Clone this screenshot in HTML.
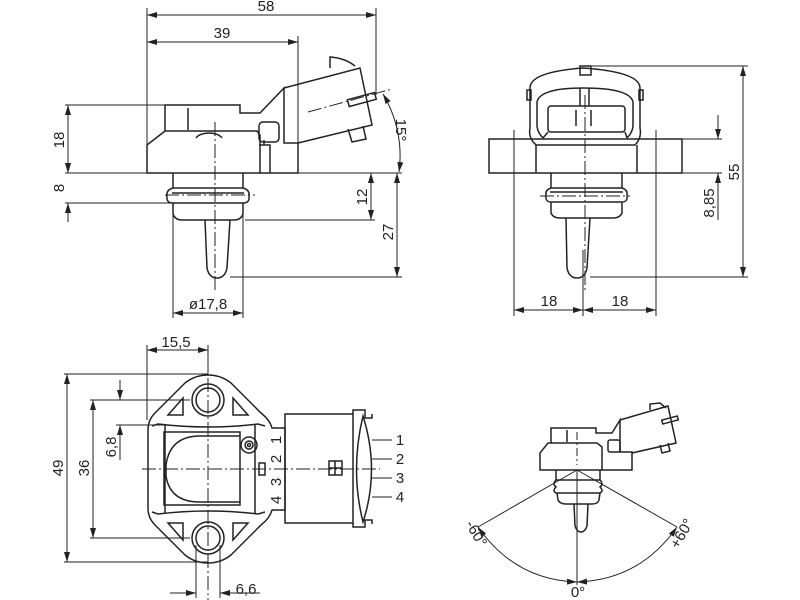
<!DOCTYPE html>
<html><head><meta charset="utf-8"><style>
html,body{margin:0;padding:0;background:#fff;}
svg{display:block;}
text{font-family:"Liberation Sans",sans-serif;font-size:15px;fill:#222;}
</style></head><body>
<svg width="800" height="600" viewBox="0 0 800 600" xmlns="http://www.w3.org/2000/svg">
<defs>
<marker id="a" viewBox="0 0 10 6" refX="10" refY="3" markerWidth="10" markerHeight="6" orient="auto-start-reverse" markerUnits="userSpaceOnUse"><path d="M0,0L10,3L0,6z" fill="#222"/></marker>
</defs>
<g fill="none" stroke="#222" stroke-width="1">
<!-- ========== TOP LEFT VIEW ========== -->
<!-- ext lines -->
<line x1="147" y1="8" x2="147" y2="173"/>
<line x1="376" y1="8" x2="376" y2="95"/>
<line x1="298" y1="36" x2="298" y2="173"/>
<line x1="65" y1="105" x2="165" y2="105"/>
<line x1="65" y1="173" x2="402" y2="173"/>
<line x1="65" y1="203" x2="212" y2="203"/>
<line x1="245" y1="220" x2="375" y2="220"/>
<line x1="230" y1="277" x2="402" y2="277"/>
<line x1="173" y1="210" x2="173" y2="318"/>
<line x1="243" y1="210" x2="243" y2="318"/>
<!-- dims -->
<line x1="147" y1="15" x2="376" y2="15" marker-start="url(#a)" marker-end="url(#a)"/>
<line x1="147" y1="42" x2="298" y2="42" marker-start="url(#a)" marker-end="url(#a)"/>
<line x1="68" y1="105" x2="68" y2="173" marker-start="url(#a)" marker-end="url(#a)"/>
<line x1="68" y1="173" x2="68" y2="160" marker-start="url(#a)"/>
<line x1="68" y1="203" x2="68" y2="222" marker-start="url(#a)"/>
<line x1="371" y1="173" x2="371" y2="220" marker-start="url(#a)" marker-end="url(#a)"/>
<line x1="397" y1="173" x2="397" y2="277" marker-start="url(#a)" marker-end="url(#a)"/>
<line x1="173" y1="313" x2="243" y2="313" marker-start="url(#a)" marker-end="url(#a)"/>
<path d="M383,94 A120,120 0 0 1 399,172" marker-start="url(#a)" marker-end="url(#a)"/>
<!-- body -->
<g stroke-width="1.5">
<path d="M147,173 L147,145 L165,131 L257,131 L260,135 L260,173 Z"/>
<path d="M165,131 L165,105 L240,105 L240,113 L260,113 L284,88 L284,143 L298,143 L298,173 L260,173"/>
<line x1="188" y1="108" x2="188" y2="130"/>
<path d="M196,138 A14,8 0 0 1 222,138"/>
<path d="M284,88 L360,68 L372,125 L298,143"/>
<path d="M330,68 L330,57 Q345,58 355,66"/>
<path d="M348,129 L352,142 L366,139 L363,126"/>
<rect x="348" y="96" width="28" height="7" transform="rotate(-15 362 100)"/>
<rect x="259" y="122" width="20" height="20" rx="4"/>
<path d="M259,145 L270,145 L270,173 M264,145 L264,140"/>
<!-- stem -->
<path d="M173,173 L173,188 L243,188 L243,173"/>
<path d="M173,188 Q166,190 167,196 Q166,203 173,203 L243,203 Q250,203 249,196 Q250,190 243,188"/>
<line x1="172" y1="193" x2="244" y2="193"/>
<path d="M173,203 L173,214 Q175,220 182,220 L234,220 Q241,220 243,214 L243,203"/>
<path d="M205,220 L207,268 Q209,278 217,278 Q225,278 227,268 L230,220"/>
</g>
<g stroke-dasharray="14,3,2,3">
<line x1="215" y1="122" x2="215" y2="292"/>
<line x1="165" y1="195" x2="255" y2="195"/>
<line x1="308" y1="112" x2="392" y2="89"/>
</g>
<!-- ========== TOP RIGHT VIEW ========== -->
<line x1="514" y1="130" x2="514" y2="316"/>
<line x1="656" y1="130" x2="656" y2="316"/>
<line x1="583" y1="250" x2="583" y2="316"/>
<line x1="592" y1="66" x2="748" y2="66"/>
<line x1="590" y1="277" x2="748" y2="277"/>
<line x1="682" y1="139" x2="722" y2="139"/>
<line x1="682" y1="173" x2="722" y2="173"/>
<line x1="743" y1="66" x2="743" y2="277" marker-start="url(#a)" marker-end="url(#a)"/>
<line x1="718" y1="115" x2="718" y2="139" marker-end="url(#a)"/>
<line x1="718" y1="220" x2="718" y2="173" marker-end="url(#a)"/>
<line x1="514" y1="310" x2="583" y2="310" marker-start="url(#a)" marker-end="url(#a)"/>
<line x1="583" y1="310" x2="656" y2="310" marker-start="url(#a)" marker-end="url(#a)"/>
<g stroke-width="1.5">
<rect x="489" y="139" width="193" height="34"/>
<line x1="536" y1="145" x2="536" y2="173"/>
<line x1="637" y1="145" x2="637" y2="173"/>
<path d="M536,145 Q528,138 530,128 L530,88 Q530,72 583,68 Q640,72 640,88 L640,128 Q642,138 635,145 Z"/>
<path d="M543,138 Q537,132 537,125 L537,102 Q540,88 583,88 Q630,88 633,102 L633,125 Q633,132 627,138"/>
<rect x="548" y="106" width="77" height="26" rx="3"/>
<path d="M543,138 L548,132 M627,138 L625,132"/>
<rect x="580" y="66" width="11" height="9"/>
<rect x="527" y="90" width="4" height="10"/>
<rect x="639" y="90" width="4" height="10"/>
<line x1="580" y1="88" x2="580" y2="106"/><line x1="589" y1="88" x2="589" y2="106"/>
<line x1="576" y1="110" x2="576" y2="126"/><line x1="591" y1="110" x2="591" y2="126"/>
<path d="M551,173 L551,188 L622,188 L622,173"/>
<path d="M551,188 Q545,190 546,195 Q545,202 551,202 L622,202 Q628,202 627,195 Q628,190 622,188"/>
<line x1="550" y1="192" x2="623" y2="192"/>
<path d="M551,202 L551,213 Q553,218 560,218 L613,218 Q620,218 622,213 L622,202"/>
<path d="M566,218 L567,268 Q569,278 577,278 Q585,278 587,268 L590,218"/>
</g>
<g stroke-dasharray="14,3,2,3">
<line x1="585" y1="95" x2="585" y2="290"/>
<line x1="540" y1="196" x2="630" y2="196"/>
<line x1="514" y1="130" x2="514" y2="165"/>
</g>
<!-- ========== BOTTOM LEFT VIEW ========== -->
<line x1="147" y1="345" x2="147" y2="420"/>
<line x1="208" y1="345" x2="208" y2="375"/>
<line x1="64" y1="374" x2="208" y2="374"/>
<line x1="64" y1="562" x2="208" y2="562"/>
<line x1="90" y1="400" x2="190" y2="400"/>
<line x1="90" y1="538" x2="190" y2="538"/>
<line x1="116" y1="425" x2="170" y2="425"/>
<line x1="196" y1="545" x2="196" y2="598"/>
<line x1="220" y1="545" x2="220" y2="598"/>
<line x1="147" y1="350" x2="208" y2="350" marker-start="url(#a)" marker-end="url(#a)"/>
<line x1="67" y1="374" x2="67" y2="562" marker-start="url(#a)" marker-end="url(#a)"/>
<line x1="93" y1="400" x2="93" y2="538" marker-start="url(#a)" marker-end="url(#a)"/>
<line x1="120" y1="380" x2="120" y2="400" marker-end="url(#a)"/>
<line x1="120" y1="460" x2="120" y2="425" marker-end="url(#a)"/>
<line x1="170" y1="593" x2="196" y2="593" marker-end="url(#a)"/>
<line x1="260" y1="593" x2="220" y2="593" marker-end="url(#a)"/>
<g stroke-width="1.5">
<path d="M208,375 Q195,375 185,383 L155,413 Q148,420 148,430 L148,508 Q148,518 155,525 L185,555 Q195,563 208,563 Q221,563 231,555 L261,525 Q270,518 272,510 L285,510 L285,428 L272,428 Q270,420 261,413 L231,383 Q221,375 208,375 Z"/>
<path d="M152,426 L158,424 Q208,430 258,424 L265,426"/>
<path d="M152,512 L158,514 Q208,508 258,514 L265,512"/>
<line x1="165" y1="425" x2="165" y2="513"/>
<line x1="255" y1="425" x2="255" y2="513"/>
<rect x="164" y="432" width="76" height="73"/>
<path d="M240,436 L200,436 Q170,436 166,465 L166,476 Q170,502 200,502 L240,502"/>
<circle cx="208" cy="400" r="16"/><circle cx="208" cy="400" r="12"/>
<circle cx="208" cy="538" r="16"/><circle cx="208" cy="538" r="12"/>
<path d="M168,415 L183,398 L183,415 Z"/><path d="M233,398 L248,415 L233,415 Z"/>
<path d="M168,523 L183,540 L183,523 Z"/><path d="M233,540 L248,523 L233,523 Z"/>
<circle cx="249" cy="445" r="8"/><circle cx="249" cy="445" r="4"/><circle cx="249" cy="445" r="1.5"/>
<rect x="259" y="463" width="6" height="12"/>
<rect x="285" y="414" width="68" height="109"/>
<path d="M353,414 L353,410 L365,410 L365,418 L372,418 L372,414 M353,523 L353,527 L365,527 L365,520 L372,520 L372,524"/>
<path d="M363,416 Q380,470 363,522 Q350,470 363,416 Z"/>
<rect x="329" y="461" width="13" height="14"/><line x1="329" y1="468" x2="342" y2="468"/><line x1="335" y1="461" x2="335" y2="475"/>
</g>
<line x1="372" y1="440" x2="392" y2="440"/>
<line x1="372" y1="459" x2="392" y2="459"/>
<line x1="372" y1="478" x2="392" y2="478"/>
<line x1="372" y1="497" x2="392" y2="497"/>
<g stroke-dasharray="14,3,2,3">
<line x1="142" y1="469" x2="380" y2="469"/>
<line x1="208" y1="378" x2="208" y2="600"/>
</g>
<!-- ========== BOTTOM RIGHT VIEW ========== -->
<g stroke-width="1.5">
<path d="M540,470 L540,453 L548,443 L597,443 L602,447 L602,470 Z"/>
<path d="M551,443 L551,428 L596,428 L596,433 L612,433 L620,420 L620,452 L632,452 L632,470 L602,470"/>
<path d="M620,420 L668,406 L676,443 L632,453"/>
<path d="M650,410 L650,404 L660,403 L666,408"/>
<rect x="662" y="418" width="16" height="4" transform="rotate(-15 670 420)"/>
<path d="M660,445 L662,453 L670,451 L668,443"/>
<rect x="608" y="440" width="12" height="12" rx="2"/>
<line x1="567" y1="430" x2="567" y2="442"/>
<path d="M556,470 L556,480 L600,480 L600,470"/>
<path d="M556,480 Q552,484 556,487 Q552,491 556,493 L600,493 Q604,491 600,487 Q604,484 600,480"/>
<path d="M557,493 L558,500 Q560,504 566,504 L592,504 Q598,504 599,500 L600,493"/>
<path d="M574,504 L575,526 Q577,532 581,532 Q585,532 587,526 L588,504"/>
</g>
<line x1="577" y1="470" x2="577" y2="585"/>
<line x1="577" y1="470" x2="478" y2="527"/>
<line x1="577" y1="470" x2="677" y2="527"/>
<path d="M478,527 Q515,580 577,582" marker-start="url(#a)" marker-end="url(#a)"/>
<path d="M677,527 Q640,580 577,582" marker-start="url(#a)" marker-end="url(#a)"/>
<line x1="577" y1="432" x2="577" y2="465" stroke-dasharray="8,3,2,3"/>
</g>
<!-- ========== TEXT ========== -->
<text x="266" y="11" text-anchor="middle">58</text>
<text x="222" y="38" text-anchor="middle">39</text>
<text transform="translate(64,140) rotate(-90)" text-anchor="middle">18</text>
<text transform="translate(64,188) rotate(-90)" text-anchor="middle">8</text>
<text transform="translate(367,197) rotate(-90)" text-anchor="middle">12</text>
<text transform="translate(393,232) rotate(-90)" text-anchor="middle">27</text>
<text transform="translate(396,130) rotate(90)" text-anchor="middle">15°</text>
<text x="208" y="309" text-anchor="middle">ø17,8</text>
<text transform="translate(739,172) rotate(-90)" text-anchor="middle">55</text>
<text transform="translate(714,203) rotate(-90)" text-anchor="middle">8,85</text>
<text x="549" y="306" text-anchor="middle">18</text>
<text x="620" y="306" text-anchor="middle">18</text>
<text x="176" y="347" text-anchor="middle">15,5</text>
<text transform="translate(63,468) rotate(-90)" text-anchor="middle">49</text>
<text transform="translate(89,468) rotate(-90)" text-anchor="middle">36</text>
<text transform="translate(116,447) rotate(-90)" text-anchor="middle">6,8</text>
<text x="246" y="594" text-anchor="middle">6,6</text>
<text transform="translate(281,440) rotate(-90)" text-anchor="middle">1</text>
<text transform="translate(281,459) rotate(-90)" text-anchor="middle">2</text>
<text transform="translate(281,482) rotate(-90)" text-anchor="middle">3</text>
<text transform="translate(281,500) rotate(-90)" text-anchor="middle">4</text>
<text x="400" y="445" text-anchor="middle">1</text>
<text x="400" y="464" text-anchor="middle">2</text>
<text x="400" y="483" text-anchor="middle">3</text>
<text x="400" y="502" text-anchor="middle">4</text>
<text transform="translate(472,536) rotate(60)" text-anchor="middle">-60°</text>
<text transform="translate(686,536) rotate(-60)" text-anchor="middle">+60°</text>
<text x="578" y="597" text-anchor="middle">0°</text>
</svg>
</body></html>
